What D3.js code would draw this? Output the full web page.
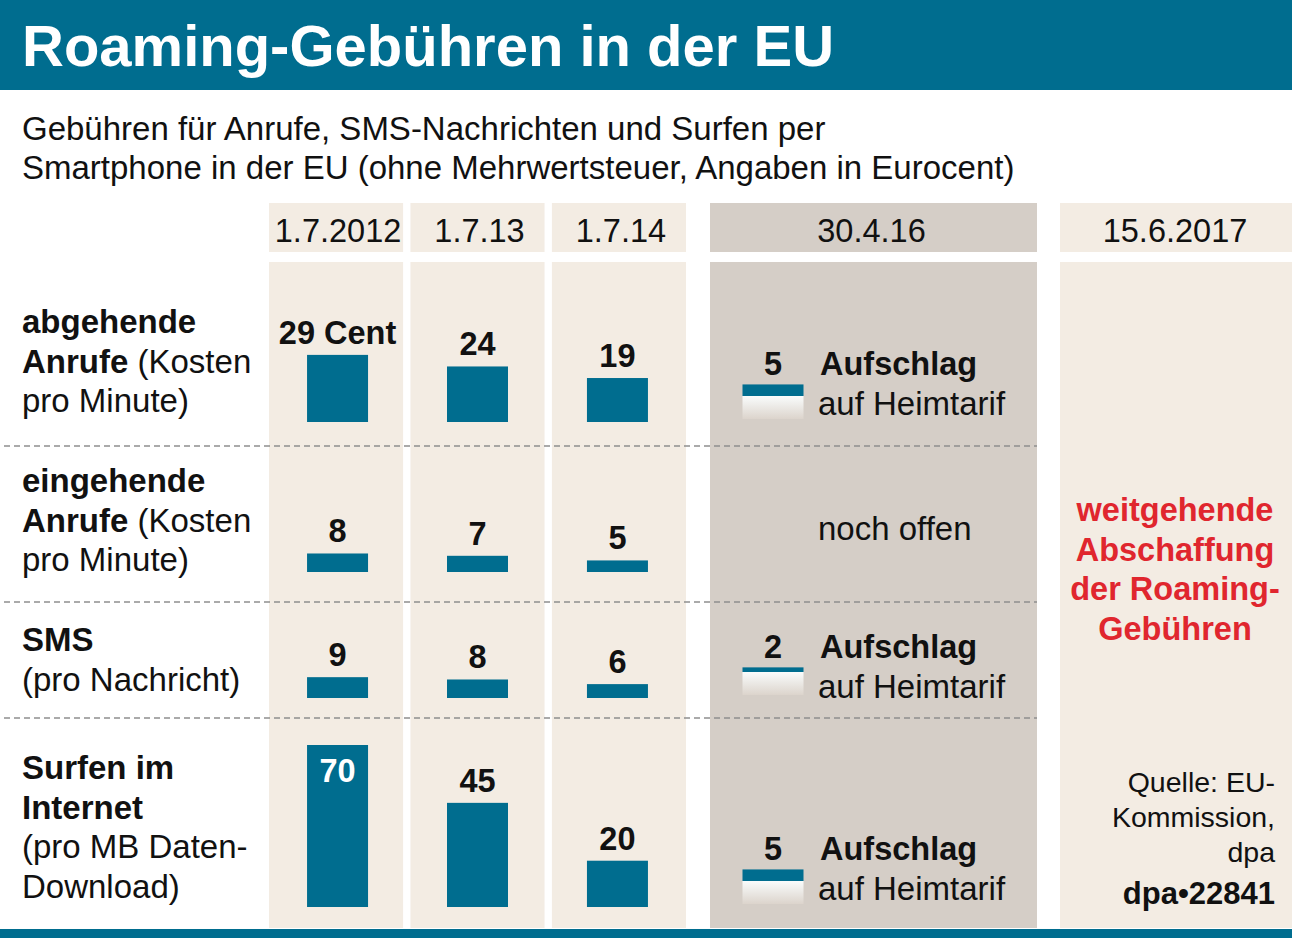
<!DOCTYPE html>
<html><head><meta charset="utf-8">
<script src="https://cdn.jsdelivr.net/npm/d3@7/dist/d3.min.js"></script>
<style>
html,body{margin:0;padding:0;background:#fff;}
svg{display:block;font-family:"Liberation Sans",Arial,Helvetica,sans-serif;}
</style></head>
<body>
<script>
// ---------- data ----------
const title = "Roaming-Gebühren in der EU";
const subtitleLines = ["Gebühren für Anrufe, SMS-Nachrichten und Surfen per",
  "Smartphone in der EU (ohne Mehrwertsteuer, Angaben in Eurocent)"];
const dates = ["1.7.2012", "1.7.13", "1.7.14"];
const dateSurcharge = "30.4.16";
const dateAbolish = "15.6.2017";
const categories = ["abgehende Anrufe", "eingehende Anrufe", "SMS", "Surfen im Internet"];
const outgoingCalls = [29, 24, 19];
const incomingCalls = [8, 7, 5];
const smsValues = [9, 8, 6];
const surfingValues = [70, 45, 20];
const surcharge2016 = [5, null, 2, 5];
const unit = "Cent";
const surchargeText = ["Aufschlag", "auf Heimtarif"];
const openText = "noch offen";
const abolishText = ["weitgehende", "Abschaffung", "der Roaming-", "Gebühren"];
const sourceText = ["Quelle: EU-", "Kommission,", "dpa"];
const creditText = "dpa•22841";
// row label lines: [text, bold] segments
const rowLabels = [
  [[["abgehende", true]], [["Anrufe", true], [" (Kosten", false]], [["pro Minute)", false]]],
  [[["eingehende", true]], [["Anrufe", true], [" (Kosten", false]], [["pro Minute)", false]]],
  [[["SMS", true]], [["(pro Nachricht)", false]]],
  [[["Surfen im", true]], [["Internet", true]], [["(pro MB Daten-", false]], [["Download)", false]]]
];
const seriesByRow = [outgoingCalls, incomingCalls, smsValues, surfingValues];

// ---------- style ----------
const W = 1292, H = 944;
const TEAL = "#006d8f", BEIGE = "#f3ece3", GREY = "#d5cec7", RED = "#e0262e", INK = "#111";
const FS = 33;

const svg = d3.select("body").append("svg").attr("width", W).attr("height", H);
const defs = svg.append("defs");
const grad = defs.append("linearGradient").attr("id", "home").attr("x1", 0).attr("x2", 0).attr("y1", 0).attr("y2", 1);
grad.append("stop").attr("offset", "0%").attr("stop-color", "#f9fcfc");
grad.append("stop").attr("offset", "100%").attr("stop-color", "#dcd4cc");

// header
svg.append("rect").attr("x", 0).attr("y", 0).attr("width", W).attr("height", 90).attr("fill", TEAL);
svg.append("text").attr("x", 22).attr("y", 66).attr("fill", "#fff")
  .attr("font-size", 58).attr("font-weight", "bold").text(title);
svg.selectAll("text.sub").data(subtitleLines).join("text").attr("class", "sub")
  .attr("x", 22).attr("y", (d, i) => 140 + i * 39).attr("font-size", 33).attr("fill", INK).text(d => d);

// scales
const x = d3.scaleBand().domain(dates).range([269, 686]).paddingInner(0.052).paddingOuter(0);
const v = d3.scaleLinear().domain([0, 70]).range([0, 162]);
const barW = 61;
const rowBase = [422, 572, 698, 907];
const labelTop = [333, 492, 651, 779];
const bodyTop = 262, bodyBottom = 928;

// column backgrounds
const cols = svg.append("g");
cols.selectAll("rect.hd").data(dates).join("rect").attr("class", "hd")
  .attr("x", d => x(d)).attr("y", 203).attr("width", x.bandwidth()).attr("height", 49).attr("fill", BEIGE);
cols.selectAll("rect.bd").data(dates).join("rect").attr("class", "bd")
  .attr("x", d => x(d)).attr("y", bodyTop).attr("width", x.bandwidth()).attr("height", bodyBottom - bodyTop).attr("fill", BEIGE);
cols.selectAll("text.hd").data(dates).join("text").attr("class", "hd")
  .attr("x", d => x(d) + x.bandwidth() / 2 + 2).attr("y", 242).attr("text-anchor", "middle")
  .attr("font-size", 32.5).attr("fill", INK).text(d => d);

// 2016 column
const g16 = { x0: 710, x1: 1037 };
svg.append("rect").attr("x", g16.x0).attr("y", 203).attr("width", g16.x1 - g16.x0).attr("height", 49).attr("fill", GREY);
svg.append("rect").attr("x", g16.x0).attr("y", bodyTop).attr("width", g16.x1 - g16.x0).attr("height", bodyBottom - bodyTop).attr("fill", GREY);
svg.append("text").attr("x", (g16.x0 + g16.x1) / 2 - 2).attr("y", 242).attr("text-anchor", "middle")
  .attr("font-size", 32.5).attr("fill", INK).text(dateSurcharge);

// 2017 column
const g17 = { x0: 1060, x1: 1292 };
svg.append("rect").attr("x", g17.x0).attr("y", 203).attr("width", g17.x1 - g17.x0).attr("height", 49).attr("fill", BEIGE);
svg.append("rect").attr("x", g17.x0).attr("y", bodyTop).attr("width", g17.x1 - g17.x0).attr("height", bodyBottom - bodyTop).attr("fill", BEIGE);
svg.append("text").attr("x", 1175).attr("y", 242).attr("text-anchor", "middle")
  .attr("font-size", 32.5).attr("fill", INK).text(dateAbolish);

// dashed separators
const seps = [446, 602, 718];
svg.selectAll("line.sep").data(seps).join("line").attr("class", "sep")
  .attr("x1", 4).attr("x2", g16.x1).attr("y1", d => d).attr("y2", d => d)
  .attr("stroke", "#8f8f8f").attr("stroke-width", 1.6).attr("stroke-dasharray", "6,4");

// row labels
rowLabels.forEach((lines, r) => {
  lines.forEach((segs, li) => {
    const t = svg.append("text").attr("x", 22).attr("y", labelTop[r] + li * 39.5).attr("font-size", FS).attr("fill", INK);
    segs.forEach(([s, b]) => t.append("tspan").attr("font-weight", b ? "bold" : "normal").text(s));
  });
});

// bars
seriesByRow.forEach((vals, r) => {
  const g = svg.append("g");
  const data = dates.map((d, i) => ({ d, val: vals[i], i }));
  g.selectAll("rect").data(data).join("rect")
    .attr("x", d => x(d.d) + x.bandwidth() / 2 - barW / 2 + (d.i === 0 ? 1.5 : d.i === 2 ? -1.5 : 0))
    .attr("y", d => rowBase[r] - v(d.val)).attr("width", barW).attr("height", d => v(d.val))
    .attr("fill", TEAL);
  g.selectAll("text").data(data).join("text")
    .attr("x", d => x(d.d) + x.bandwidth() / 2 + (d.i === 0 ? 1.5 : d.i === 2 ? -1.5 : 0))
    .attr("y", d => {
      const top = rowBase[r] - v(d.val);
      return v(d.val) > 120 ? top + 37 : top - 11;
    })
    .attr("text-anchor", "middle").attr("font-size", 32.5).attr("font-weight", "bold")
    .attr("fill", d => v(d.val) > 120 ? "#fff" : INK)
    .text(d => (r === 0 && d.i === 0) ? d.val + " " + unit : d.val);
});

// 2016 surcharge icons
const iconCx = 773;
surcharge2016.forEach((s, r) => {
  if (s == null) {
    svg.append("text").attr("x", 818).attr("y", 540).attr("font-size", FS).attr("fill", INK).text(openText);
    return;
  }
  const gradH = 23;
  const gradBottom = rowBase[r] - 3;
  const tealTop = gradBottom - gradH - v(s);
  svg.append("rect").attr("x", iconCx - barW / 2).attr("y", gradBottom - gradH).attr("width", barW).attr("height", gradH).attr("fill", "url(#home)");
  svg.append("rect").attr("x", iconCx - barW / 2).attr("y", tealTop).attr("width", barW).attr("height", v(s)).attr("fill", TEAL);
  const base = tealTop - 9;
  svg.append("text").attr("x", iconCx).attr("y", base).attr("text-anchor", "middle")
    .attr("font-size", 32.5).attr("font-weight", "bold").attr("fill", INK).text(s);
  svg.append("text").attr("x", 820).attr("y", base).attr("font-size", 32.5).attr("font-weight", "bold").attr("fill", INK).text(surchargeText[0]);
  svg.append("text").attr("x", 818).attr("y", base + 40).attr("font-size", FS).attr("fill", INK).text(surchargeText[1]);
});

// 2017 text
svg.selectAll("text.red").data(abolishText).join("text").attr("class", "red")
  .attr("x", 1175).attr("y", (d, i) => 521 + i * 39.7).attr("text-anchor", "middle")
  .attr("font-size", 32.5).attr("font-weight", "bold").attr("fill", RED).text(d => d);

// source
svg.selectAll("text.src").data(sourceText).join("text").attr("class", "src")
  .attr("x", 1275).attr("y", (d, i) => 792 + i * 35).attr("text-anchor", "end")
  .attr("font-size", 28.5).attr("fill", INK).text(d => d);
svg.append("text").attr("x", 1275).attr("y", 904).attr("text-anchor", "end")
  .attr("font-size", 31).attr("font-weight", "bold").attr("fill", INK).text(creditText);

// bottom rule
svg.append("rect").attr("x", 0).attr("y", 929).attr("width", W).attr("height", 9).attr("fill", TEAL);
</script>
</body></html>
